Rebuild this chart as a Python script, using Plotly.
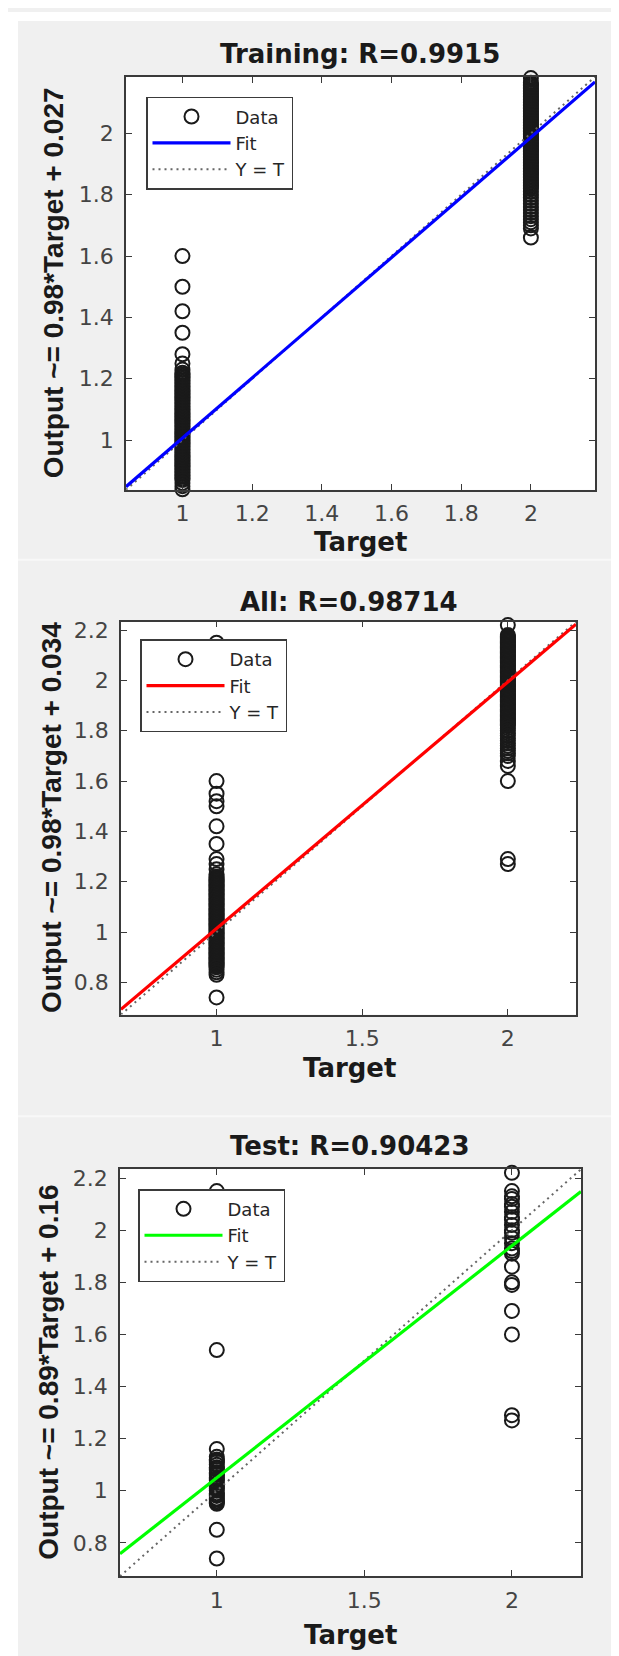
import plotly.graph_objects as go

W, H = 619, 1656

# ---------------- data ----------------
titles = ["Training: R=0.9915", "All: R=0.98714", "Test: R=0.90423"]
ylabels = ["Output ~= 0.98*Target + 0.027",
           "Output ~= 0.98*Target + 0.034",
           "Output ~= 0.89*Target + 0.16"]
fit_slope = [0.98, 0.98, 0.89]
fit_intercept = [0.027, 0.034, 0.16]
fit_colors = ["#0000ff", "#ff0000", "#00ff00"]

# outputs of samples whose target is 1 / 2 (Training)
train_t1 = [1.60, 1.50, 1.42, 1.35, 1.28, 1.25, 1.23,
            1.22, 1.215, 1.21, 1.205, 1.20, 1.195, 1.19, 1.185, 1.18, 1.175,
            1.17, 1.165, 1.16, 1.155, 1.15, 1.145, 1.14, 1.135, 1.13, 1.125,
            1.12, 1.115, 1.11, 1.105, 1.10, 1.095, 1.09, 1.085, 1.08, 1.075,
            1.07, 1.065, 1.06, 1.055, 1.05, 1.045, 1.04, 1.035, 1.03, 1.025,
            1.02, 1.015, 1.01, 1.005, 1.00, 0.995, 0.99, 0.985, 0.98, 0.975,
            0.97, 0.965, 0.96, 0.955, 0.95, 0.945, 0.94, 0.935, 0.93, 0.925,
            0.92, 0.915, 0.91, 0.905, 0.90, 0.895, 0.89, 0.885, 0.88, 0.875,
            0.87, 0.86, 0.85, 0.84]
train_t2 = [2.18, 2.165, 2.16, 2.155, 2.15, 2.145, 2.14, 2.135, 2.13, 2.125,
            2.12, 2.115, 2.11, 2.105, 2.10, 2.095, 2.09, 2.085, 2.08, 2.075,
            2.07, 2.065, 2.06, 2.055, 2.05, 2.045, 2.04, 2.035, 2.03, 2.025,
            2.02, 2.015, 2.01, 2.005, 2.00, 1.995, 1.99, 1.985, 1.98, 1.975,
            1.97, 1.965, 1.96, 1.955, 1.95, 1.945, 1.94, 1.935, 1.93, 1.925,
            1.92, 1.915, 1.91, 1.905, 1.90, 1.895, 1.89, 1.885, 1.88, 1.875,
            1.87, 1.865, 1.86, 1.855, 1.85, 1.845, 1.84, 1.835, 1.83, 1.825,
            1.82, 1.81, 1.80, 1.79, 1.78, 1.77, 1.76, 1.75, 1.74, 1.73, 1.72,
            1.71, 1.70, 1.69, 1.66]

# All
all_t1 = [2.15, 1.60, 1.55, 1.52, 1.50, 1.42, 1.35, 1.29, 1.27, 1.25, 1.23,
          1.22, 1.215, 1.21, 1.205, 1.20, 1.195, 1.19, 1.185, 1.18, 1.175,
          1.17, 1.165, 1.16, 1.155, 1.15, 1.145, 1.14, 1.135, 1.13, 1.125,
          1.12, 1.115, 1.11, 1.105, 1.10, 1.095, 1.09, 1.085, 1.08, 1.075,
          1.07, 1.065, 1.06, 1.055, 1.05, 1.045, 1.04, 1.035, 1.03, 1.025,
          1.02, 1.015, 1.01, 1.005, 1.00, 0.995, 0.99, 0.985, 0.98, 0.975,
          0.97, 0.965, 0.96, 0.955, 0.95, 0.945, 0.94, 0.935, 0.93, 0.925,
          0.92, 0.915, 0.91, 0.905, 0.90, 0.895, 0.89, 0.885, 0.88, 0.875,
          0.87, 0.865, 0.86, 0.85, 0.84, 0.83, 0.74, 0.67]
all_t2 = [2.22, 2.18, 2.175, 2.17, 2.165, 2.16, 2.155, 2.15, 2.145, 2.14,
          2.135, 2.13, 2.125, 2.12, 2.115, 2.11, 2.105, 2.10, 2.095, 2.09,
          2.085, 2.08, 2.075, 2.07, 2.065, 2.06, 2.055, 2.05, 2.045, 2.04,
          2.035, 2.03, 2.025, 2.02, 2.015, 2.01, 2.005, 2.00, 1.995, 1.99,
          1.985, 1.98, 1.975, 1.97, 1.965, 1.96, 1.955, 1.95, 1.945, 1.94,
          1.935, 1.93, 1.925, 1.92, 1.915, 1.91, 1.905, 1.90, 1.895, 1.89,
          1.885, 1.88, 1.875, 1.87, 1.865, 1.86, 1.855, 1.85, 1.845, 1.84,
          1.835, 1.83, 1.825, 1.82, 1.81, 1.80, 1.79, 1.78, 1.77, 1.76, 1.75,
          1.74, 1.73, 1.72, 1.71, 1.70, 1.68, 1.66, 1.60, 1.29, 1.27]

# Test
test_t1 = [2.15, 1.54, 1.16, 1.13, 1.12, 1.115, 1.11, 1.10, 1.09, 1.085, 1.08,
           1.07, 1.065, 1.06, 1.05, 1.045, 1.04, 1.03, 1.02, 1.015, 1.01, 1.00,
           0.99, 0.985, 0.98, 0.97, 0.965, 0.96, 0.955, 0.95, 0.85, 0.74, 0.67]
test_t2 = [2.22, 2.15, 2.13, 2.12, 2.10, 2.09, 2.07, 2.05, 2.04, 2.02, 2.00,
           1.99, 1.97, 1.95, 1.93, 1.92, 1.91, 1.86, 1.80, 1.79, 1.69, 1.60,
           1.29, 1.27]

panels_t1 = [train_t1, all_t1, test_t1]
panels_t2 = [train_t2, all_t2, test_t2]
axis_ranges = [[0.838, 2.184], [0.672, 2.234], [0.672, 2.234]]
xtick_vals = [[1, 1.2, 1.4, 1.6, 1.8, 2], [1, 1.5, 2], [1, 1.5, 2]]
ytick_vals = [[1, 1.2, 1.4, 1.6, 1.8, 2],
              [0.8, 1, 1.2, 1.4, 1.6, 1.8, 2, 2.2],
              [0.8, 1, 1.2, 1.4, 1.6, 1.8, 2, 2.2]]

# ---------------- layout geometry (pixels) ----------------
frames = [(118, 587, 65, 479), (113, 568, 611, 1005), (112, 573, 1160, 1568)]
title_pos = [(352, 42), (341, 591), (342, 1137)]
xlab_pos = [(352, 531), (341, 1059), (342, 1627)]
ylab_pos = [(45, 272), (43, 808), (41, 1364)]
legend_pos = [(138, 85), (132, 629), (130, 1180)]

def px(x):
    return x / W

def py(y):
    return 1 - y / H

FRAME = "#3a3a3a"
TICKFONT = dict(family="DejaVu Sans", size=22, color="#444444")

fig = go.Figure()
layout = dict(
    width=W, height=H,
    margin=dict(l=0, r=0, t=0, b=0),
    paper_bgcolor="#f0f0f0",
    plot_bgcolor="#ffffff",
    showlegend=True,
    annotations=[],
    shapes=[],
)

for i in range(3):
    sfx = "" if i == 0 else str(i + 1)
    xa, ya = "x" + sfx, "y" + sfx
    lg = "legend" + sfx
    lo, hi = axis_ranges[i]
    t1, t2 = panels_t1[i], panels_t2[i]
    xs = [1] * len(t1) + [2] * len(t2)
    ys = list(t1) + list(t2)

    fig.add_trace(go.Scatter(
        x=xs, y=ys, mode="markers", name="Data", xaxis=xa, yaxis=ya, legend=lg,
        legendrank=1,
        marker=dict(symbol="circle-open", size=14, color="#1a1a1a",
                    line=dict(width=2, color="#1a1a1a")),
        cliponaxis=False, hoverinfo="skip"))
    # identity line drawn first so the fit line lies on top of it
    fig.add_trace(go.Scatter(
        x=[lo, hi], y=[lo, hi], mode="lines", name="Y = T", xaxis=xa, yaxis=ya,
        legend=lg, legendrank=3,
        line=dict(color="#666666", width=2, dash="2px,4px"),
        hoverinfo="skip"))
    fx = [lo, hi]
    fy = [fit_slope[i] * v + fit_intercept[i] for v in fx]
    fig.add_trace(go.Scatter(
        x=fx, y=fy, mode="lines", name="Fit", xaxis=xa, yaxis=ya, legend=lg,
        legendrank=2,
        line=dict(color=fit_colors[i], width=3.2), hoverinfo="skip"))

    l, r, t, b = frames[i]
    axis_common = dict(
        range=[lo, hi], showgrid=False, zeroline=False, showline=True,
        linecolor=FRAME, linewidth=1.8, mirror="ticks", ticks="inside",
        ticklen=6, tickwidth=1.2, tickcolor=FRAME, tickfont=TICKFONT,
        ticklabelstandoff=3, fixedrange=True)
    layout["xaxis" + sfx] = dict(axis_common, domain=[px(l), px(r)],
                                 anchor=ya, tickvals=xtick_vals[i])
    layout["yaxis" + sfx] = dict(axis_common, domain=[py(b), py(t)],
                                 anchor=xa, tickvals=ytick_vals[i],
                                 ticklabelstandoff=6)

    lx, ly = legend_pos[i]
    layout[lg] = dict(
        x=px(lx), y=py(ly), xanchor="left", yanchor="top",
        xref="paper", yref="paper", traceorder="normal",
        bgcolor="#ffffff", bordercolor=FRAME, borderwidth=1.5,
        font=dict(family="DejaVu Sans", size=18, color="#262626"),
        itemwidth=78, tracegroupgap=0, itemclick=False, itemdoubleclick=False)

    tx, ty = title_pos[i]
    layout["annotations"].append(dict(
        text="<b>%s</b>" % titles[i], x=px(tx), y=py(ty), xref="paper", yref="paper",
        showarrow=False, xanchor="center", yanchor="middle",
        font=dict(family="DejaVu Sans", size=26, color="#1a1a1a")))
    xx, xy = xlab_pos[i]
    layout["annotations"].append(dict(
        text="<b>Target</b>", x=px(xx), y=py(xy), xref="paper", yref="paper",
        showarrow=False, xanchor="center", yanchor="middle",
        font=dict(family="DejaVu Sans", size=26, color="#1a1a1a")))
    yx, yy = ylab_pos[i]
    layout["annotations"].append(dict(
        text="<b>%s</b>" % ylabels[i], x=px(yx), y=py(yy), xref="paper", yref="paper",
        showarrow=False, xanchor="center", yanchor="middle", textangle=-90,
        font=dict(family="Liberation Sans", size=28, color="#1a1a1a")))

# white border strips of the original image and faint seams between panels
layout["shapes"] += [
    dict(type="rect", xref="paper", yref="paper", x0=0, x1=px(10), y0=0, y1=1,
         fillcolor="#ffffff", line=dict(width=0), layer="below"),
    dict(type="rect", xref="paper", yref="paper", x0=0, x1=1, y0=py(9), y1=1,
         fillcolor="#ffffff", line=dict(width=0), layer="below"),
    dict(type="line", xref="paper", yref="paper", x0=px(10), x1=1, y0=py(549), y1=py(549),
         line=dict(color="#f8f8f8", width=2), layer="below"),
    dict(type="line", xref="paper", yref="paper", x0=px(10), x1=1, y0=py(1107), y1=py(1107),
         line=dict(color="#f8f8f8", width=2), layer="below"),
]

fig.update_layout(**layout)
fig.write_html("out.html")
